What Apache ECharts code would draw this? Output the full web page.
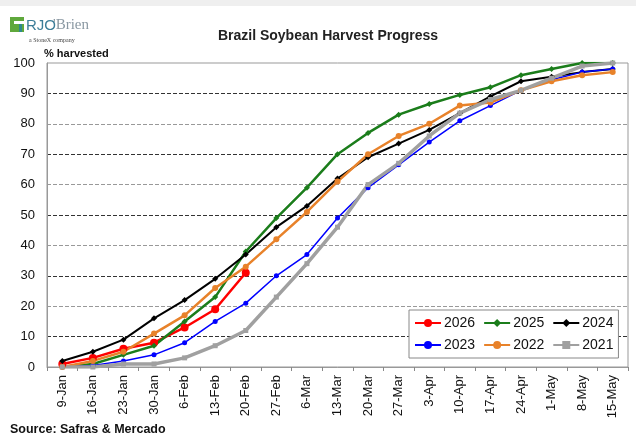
<!DOCTYPE html>
<html>
<head>
<meta charset="utf-8">
<title>Brazil Soybean Harvest Progress</title>
<script src="https://cdn.jsdelivr.net/npm/echarts@6.0.0/dist/echarts.min.js"></script>
<style>
  html, body { margin: 0; padding: 0; background: #fff; }
  #chart { width: 636px; height: 448px; }
</style>
</head>
<body>
<div id="chart"></div>
<script>
// weekly dates (x axis)
var weeks = ["9-Jan", "16-Jan", "23-Jan", "30-Jan", "6-Feb", "13-Feb", "20-Feb", "27-Feb",
  "6-Mar", "13-Mar", "20-Mar", "27-Mar", "3-Apr", "10-Apr", "17-Apr", "24-Apr",
  "1-May", "8-May", "15-May"];

// % harvested
var y2026 = [1, 3, 6, 8, 13, 19, 31];
var y2025 = [0, 1, 4, 7, 15, 23, 38, 49, 59, 70, 77, 83, 86.5, 89.5, 92, 96, 98, 100, 100];
var y2024 = [2, 5, 9, 16, 22, 29, 37, 46, 53, 62, 69, 73.5, 78, 83.5, 89, 94, 95.5, 97, 98];
var y2023 = [0, 0.5, 2, 4, 8, 15, 21, 30, 37, 49, 59, 66.5, 74, 81, 86, 91, 94.5, 97, 98];
var y2022 = [0, 2, 5, 11, 17, 26, 33, 42, 51, 61, 70, 76, 80, 86, 87, 91, 94, 96, 97];
var y2021 = [0, 0, 1, 1, 3, 7, 12, 23, 34, 46, 60, 67, 76, 83.5, 88, 91, 95, 99, 100];

var yTicks = { min: 0, max: 100, step: 10 };

var chart = echarts.init(document.getElementById("chart"), null, { renderer: "canvas" });

function makeSeries(name, data, color, width, symbol, size) {
  return {
    name: name,
    type: "line",
    data: data,
    symbol: symbol,
    symbolSize: size,
    showSymbol: true,
    lineStyle: { color: color, width: width },
    itemStyle: { color: color },
    emphasis: { disabled: true },
    animation: false
  };
}

chart.setOption({
  backgroundColor: "#fff",
  textStyle: { fontFamily: "Liberation Sans, Arial, sans-serif" },
  title: {
    text: "Brazil Soybean Harvest Progress",
    left: 323,
    top: 24,
    textAlign: "center",
    textStyle: { fontSize: 14, fontWeight: "bold", color: "#222" }
  },
  grid: {
    left: 47,
    right: 8,
    top: 63,
    bottom: 81,
    show: true,
    borderColor: "#999",
    borderWidth: 1
  },
  legend: {
    data: ["2026", "2025", "2024", "2023", "2022", "2021"],
    left: 409,
    top: 310,
    width: 206,
    padding: [6, 5],
    itemGap: 8,
    itemWidth: 26,
    itemHeight: 10,
    backgroundColor: "#fff",
    borderColor: "#888",
    borderWidth: 1,
    borderRadius: 0,
    textStyle: { fontSize: 14, color: "#111", padding: [0, 0, 0, -2] }
  },
  xAxis: {
    type: "category",
    data: weeks,
    boundaryGap: true,
    axisLine: { lineStyle: { color: "#999", width: 1 } },
    axisTick: { show: true, length: 4, lineStyle: { color: "#888" } },
    axisLabel: { rotate: 90, margin: 8, fontSize: 13, color: "#111", interval: 0 },
    splitLine: { show: false }
  },
  yAxis: {
    type: "value",
    min: yTicks.min,
    max: yTicks.max,
    interval: yTicks.step,
    axisLine: { show: true, lineStyle: { color: "#999", width: 1 } },
    axisTick: { show: false },
    axisLabel: { fontSize: 13, color: "#111", margin: 12 },
    splitLine: {
      show: true,
      showMinLine: false,
      showMaxLine: false,
      lineStyle: { color: ["#333", "#999"], type: [4, 2], width: 1 }
    }
  },
  graphic: [
    // light strip along the top edge of the screenshot
    { type: "rect", shape: { x: 0, y: 0, width: 636, height: 6 }, style: { fill: "#efefef" }, silent: true },
    // logo
    { type: "rect", shape: { x: 10, y: 17, width: 14, height: 15 }, style: { fill: "#5fa83c" }, silent: true },
    { type: "rect", shape: { x: 14, y: 21, width: 10, height: 3 }, style: { fill: "#fff" }, silent: true },
    { type: "rect", shape: { x: 19, y: 24, width: 3, height: 8 }, style: { fill: "#2e8a8c" }, silent: true },
    {
      type: "text", left: 26, top: 18,
      style: { text: "RJO", fill: "#3b7d98", font: "15px Liberation Sans Narrow, Liberation Sans, sans-serif" },
      silent: true
    },
    {
      type: "text", left: 53, top: 18,
      style: { text: "'Brien", fill: "#8a98a2", font: "15px Liberation Serif, serif" },
      silent: true
    },
    {
      type: "text", left: 29, top: 37,
      style: { text: "a StoneX company", fill: "#444", font: "6px Liberation Serif, serif" },
      silent: true
    },
    // axis caption
    {
      type: "text", left: 44, top: 48,
      style: { text: "% harvested", fill: "#111", font: "bold 11px Liberation Sans, Arial, sans-serif" },
      silent: true
    },
    // source note
    {
      type: "text", left: 10, top: 423,
      style: { text: "Source: Safras & Mercado", fill: "#111", font: "bold 12.5px Liberation Sans, Arial, sans-serif" },
      silent: true
    }
  ],
  series: [
    makeSeries("2026", y2026, "#ff0000", 2.5, "circle", 8),
    makeSeries("2025", y2025, "#1b7d1b", 2.5, "diamond", 6),
    makeSeries("2024", y2024, "#000000", 2, "diamond", 6),
    makeSeries("2023", y2023, "#0000ff", 1.5, "circle", 5),
    makeSeries("2022", y2022, "#e8822a", 2.5, "circle", 6),
    makeSeries("2021", y2021, "#a0a0a0", 3.5, "rect", 5)
  ]
});
</script>
</body>
</html>
